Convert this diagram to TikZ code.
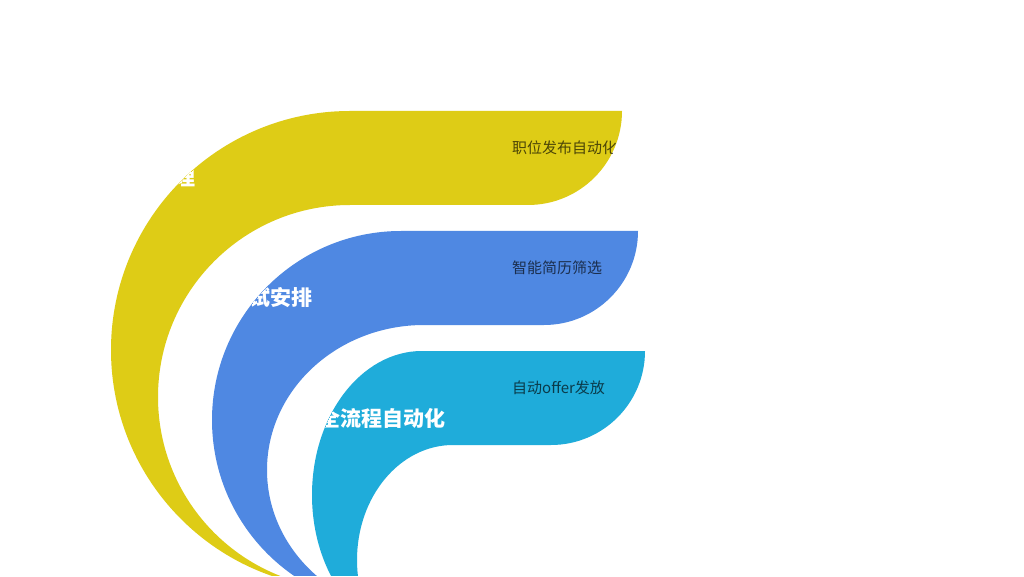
\documentclass[tikz,border=0pt]{standalone}
\usepackage{fontspec}
\newfontfamily\cjk{Noto Sans CJK SC}
\definecolor{bandY}{RGB}{222,204,22}
\definecolor{bandB}{RGB}{79,136,226}
\definecolor{bandC}{RGB}{31,172,218}
\tikzset{
  toplabel/.style={text=white, font=\cjk\bfseries\fontsize{21}{25}\selectfont, inner sep=0pt, anchor=east},
  sublabel/.style={text=black, text opacity=0.66, font=\cjk\fontsize{15}{18}\selectfont, inner sep=0pt, anchor=west}
}
\begin{document}
\begin{tikzpicture}[x=1pt,y=1pt]
\useasboundingbox (0,0) rectangle (1024,576);
\fill[white] (0,0) rectangle (1024,576);
% yellow band
\begin{scope}
\clip (350,465) -- (622,465) arc[start angle=0,end angle=-90,radius=94]
  -- (350,371) arc[start angle=90,end angle=270,radius=192]
  arc[start angle=270,end angle=90,radius=239] -- cycle;
\fill[bandY] (0,0) rectangle (1024,576);
\node[toplabel] (t1) at (196,398) {理};
\node[sublabel] (s1) at (512,428) {职位发布自动化};
\end{scope}
% blue band
\begin{scope}
\clip (401,345) -- (638,345) arc[start angle=0,end angle=-90,radius=94]
  -- (424,251) arc[start angle=90,end angle=270,x radius=157,y radius=145]
  -- (401,-33) arc[start angle=270,end angle=90,radius=189] -- cycle;
\fill[bandB] (0,0) rectangle (1024,576);
\node[toplabel] (t2) at (313,278) {试安排};
\node[sublabel] (s2) at (512,308) {智能简历筛选};
\end{scope}
% cyan band
\begin{scope}
\clip (422,225) -- (645,225) arc[start angle=0,end angle=-90,radius=94]
  -- (453,131) arc[start angle=90,end angle=270,x radius=96,y radius=115]
  -- (422,-63) arc[start angle=270,end angle=90,x radius=110,y radius=144] -- cycle;
\fill[bandC] (0,0) rectangle (1024,576);
\node[toplabel] (t3) at (446,158) {全流程自动化};
\node[sublabel] (s3) at (512,188) {自动offer发放};
\end{scope}
\end{tikzpicture}
\end{document}
